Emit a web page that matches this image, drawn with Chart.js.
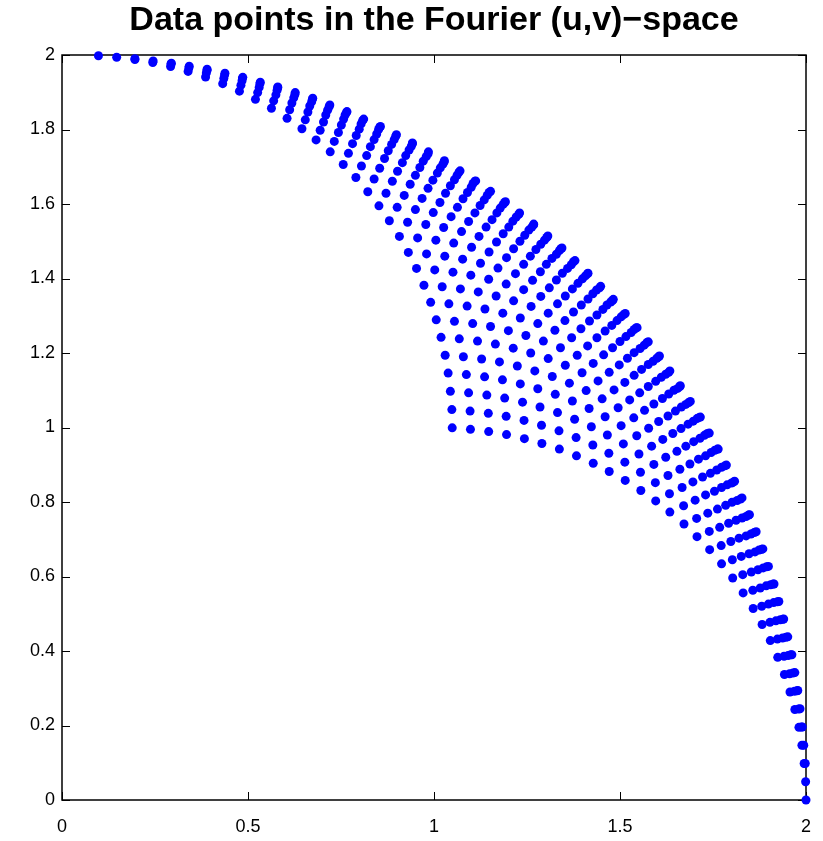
<!DOCTYPE html>
<html>
<head>
<meta charset="utf-8">
<script src="https://cdn.jsdelivr.net/npm/chart.js@4.4.1/dist/chart.umd.min.js"></script>
<style>
  html, body { margin: 0; padding: 0; background: #fff; }
  canvas { display: block; }
</style>
</head>
<body>
<canvas id="uvChart" width="823" height="841"></canvas>
<script>
const chartTitle = 'Data points in the Fourier (u,v)\u2212space';
const xTicks = [0, 0.5, 1, 1.5, 2];
const yTicks = [0, 0.2, 0.4, 0.6, 0.8, 1, 1.2, 1.4, 1.6, 1.8, 2];

// u coordinates, one line per arc of the sampling grid
const uValues = [
  2.000,1.999,1.995,1.989,1.981,1.970,1.957,1.942,1.924,1.904,1.882,1.858,1.831,1.803,1.773,1.741,1.707,1.672,1.634,1.596,1.556,1.514,1.471,1.428,1.383,1.337,1.290,1.243,1.195,1.147,1.098,1.049,
  1.998,1.994,1.988,1.980,1.969,1.956,1.941,1.923,1.903,1.881,1.857,1.830,1.802,1.772,1.740,1.706,1.671,1.633,1.595,1.555,1.513,1.470,1.427,1.382,1.336,1.289,1.242,1.194,1.146,1.097,1.048,
  1.990,1.984,1.976,1.965,1.952,1.937,1.919,1.899,1.877,1.853,1.826,1.798,1.768,1.736,1.702,1.667,1.629,1.591,1.551,1.509,1.466,1.423,1.378,1.332,1.285,1.238,1.190,1.142,1.093,1.044,
  1.978,1.970,1.959,1.946,1.931,1.913,1.893,1.871,1.847,1.820,1.792,1.762,1.730,1.696,1.661,1.623,1.585,1.545,1.503,1.460,1.417,1.372,1.326,1.279,1.232,1.184,1.136,1.087,1.038,
  1.962,1.951,1.938,1.923,1.905,1.885,1.863,1.839,1.812,1.784,1.754,1.722,1.688,1.653,1.615,1.577,1.537,1.495,1.452,1.409,1.364,1.318,1.271,1.224,1.176,1.128,1.079,1.030,
  1.940,1.927,1.912,1.894,1.874,1.852,1.828,1.801,1.773,1.743,1.711,1.677,1.642,1.604,1.566,1.526,1.484,1.441,1.398,1.353,1.307,1.260,1.213,1.165,1.117,1.068,1.019,
  1.914,1.899,1.881,1.861,1.839,1.815,1.788,1.760,1.730,1.698,1.664,1.629,1.591,1.553,1.513,1.471,1.428,1.385,1.340,1.294,1.247,1.200,1.152,1.104,1.055,1.006,
  1.884,1.866,1.846,1.824,1.800,1.773,1.745,1.715,1.683,1.649,1.614,1.576,1.538,1.498,1.456,1.413,1.370,1.325,1.279,1.232,1.185,1.137,1.089,1.040,0.991,
  1.848,1.828,1.806,1.782,1.755,1.727,1.697,1.665,1.631,1.596,1.558,1.520,1.480,1.438,1.395,1.352,1.307,1.261,1.214,1.167,1.119,1.071,1.022,0.973,
  1.808,1.786,1.762,1.735,1.707,1.677,1.645,1.611,1.576,1.538,1.500,1.460,1.418,1.375,1.332,1.287,1.241,1.194,1.147,1.099,1.051,1.002,0.953,
  1.764,1.740,1.713,1.685,1.655,1.623,1.589,1.554,1.516,1.478,1.438,1.396,1.353,1.310,1.265,1.219,1.172,1.125,1.077,1.029,0.980,0.931,
  1.716,1.689,1.661,1.631,1.599,1.565,1.530,1.492,1.454,1.414,1.372,1.329,1.286,1.241,1.195,1.148,1.101,1.053,1.005,0.956,0.907,
  1.662,1.634,1.604,1.572,1.538,1.503,1.465,1.427,1.387,1.345,1.302,1.259,1.214,1.168,1.121,1.074,1.026,0.978,0.929,0.880,
  1.606,1.576,1.544,1.510,1.475,1.437,1.399,1.359,1.317,1.274,1.231,1.186,1.140,1.093,1.046,0.998,0.950,0.901,0.852,
  1.546,1.514,1.480,1.445,1.407,1.369,1.329,1.287,1.244,1.201,1.156,1.110,1.063,1.016,0.968,0.920,0.871,0.822,
  1.482,1.448,1.413,1.375,1.337,1.297,1.255,1.212,1.169,1.124,1.078,1.031,0.984,0.936,0.888,0.839,0.790,
  1.414,1.379,1.341,1.303,1.263,1.221,1.178,1.135,1.090,1.044,0.997,0.950,0.902,0.854,0.805,0.756,
  1.344,1.306,1.268,1.228,1.186,1.143,1.100,1.055,1.009,0.962,0.915,0.867,0.819,0.770,0.721,
  1.268,1.230,1.190,1.148,1.105,1.062,1.017,0.971,0.924,0.877,0.829,0.781,0.732,0.683,
  1.192,1.152,1.110,1.067,1.024,0.979,0.933,0.886,0.839,0.791,0.743,0.694,0.645,
  1.112,1.070,1.027,0.984,0.939,0.893,0.846,0.799,0.751,0.703,0.654,0.605,
  1.028,0.985,0.942,0.897,0.851,0.804,0.757,0.709,0.661,0.612,0.563,
  0.942,0.899,0.854,0.808,0.761,0.714,0.666,0.618,0.569,0.520,
  0.856,0.811,0.765,0.718,0.671,0.623,0.575,0.526,0.477,
  0.766,0.720,0.673,0.626,0.578,0.530,0.481,0.432,
  0.674,0.627,0.580,0.532,0.484,0.435,0.386,
  0.580,0.533,0.485,0.437,0.388,0.339,
  0.486,0.438,0.390,0.341,0.292,
  0.390,0.342,0.293,0.244,
  0.294,0.245,0.196,
  0.196,0.147,
  0.098
];

// v coordinates, same order as uValues
const vValues = [
  0.000,0.049,0.098,0.147,0.195,0.243,0.290,0.337,0.383,0.428,0.471,0.514,0.556,0.596,0.634,0.672,0.707,0.741,0.773,0.803,0.831,0.858,0.882,0.904,0.924,0.942,0.957,0.970,0.981,0.989,0.995,0.999,
  0.098,0.147,0.196,0.244,0.292,0.339,0.386,0.432,0.477,0.520,0.563,0.605,0.645,0.683,0.721,0.756,0.790,0.822,0.852,0.880,0.907,0.931,0.953,0.973,0.991,1.006,1.019,1.030,1.038,1.044,1.048,
  0.196,0.245,0.293,0.341,0.388,0.435,0.481,0.526,0.569,0.612,0.654,0.694,0.732,0.770,0.805,0.839,0.871,0.901,0.929,0.956,0.980,1.002,1.022,1.040,1.055,1.068,1.079,1.087,1.093,1.097,
  0.294,0.342,0.390,0.437,0.484,0.530,0.575,0.618,0.661,0.703,0.743,0.781,0.819,0.854,0.888,0.920,0.950,0.978,1.005,1.029,1.051,1.071,1.089,1.104,1.117,1.128,1.136,1.142,1.146,
  0.390,0.438,0.485,0.532,0.578,0.623,0.666,0.709,0.751,0.791,0.829,0.867,0.902,0.936,0.968,0.998,1.026,1.053,1.077,1.099,1.119,1.137,1.152,1.165,1.176,1.184,1.190,1.194,
  0.486,0.533,0.580,0.626,0.671,0.714,0.757,0.799,0.839,0.877,0.915,0.950,0.984,1.016,1.046,1.074,1.101,1.125,1.147,1.167,1.185,1.200,1.213,1.224,1.232,1.238,1.242,
  0.580,0.627,0.673,0.718,0.761,0.804,0.846,0.886,0.924,0.962,0.997,1.031,1.063,1.093,1.121,1.148,1.172,1.194,1.214,1.232,1.247,1.260,1.271,1.279,1.285,1.289,
  0.674,0.720,0.765,0.808,0.851,0.893,0.933,0.971,1.009,1.044,1.078,1.110,1.140,1.168,1.195,1.219,1.241,1.261,1.279,1.294,1.307,1.318,1.326,1.332,1.336,
  0.766,0.811,0.854,0.897,0.939,0.979,1.017,1.055,1.090,1.124,1.156,1.186,1.214,1.241,1.265,1.287,1.307,1.325,1.340,1.353,1.364,1.372,1.378,1.382,
  0.856,0.899,0.942,0.984,1.024,1.062,1.100,1.135,1.169,1.201,1.231,1.259,1.286,1.310,1.332,1.352,1.370,1.385,1.398,1.409,1.417,1.423,1.427,
  0.942,0.985,1.027,1.067,1.105,1.143,1.178,1.212,1.244,1.274,1.302,1.329,1.353,1.375,1.395,1.413,1.428,1.441,1.452,1.460,1.466,1.470,
  1.028,1.070,1.110,1.148,1.186,1.221,1.255,1.287,1.317,1.345,1.372,1.396,1.418,1.438,1.456,1.471,1.484,1.495,1.503,1.509,1.513,
  1.112,1.152,1.190,1.228,1.263,1.297,1.329,1.359,1.387,1.414,1.438,1.460,1.480,1.498,1.513,1.526,1.537,1.545,1.551,1.555,
  1.192,1.230,1.268,1.303,1.337,1.369,1.399,1.427,1.454,1.478,1.500,1.520,1.538,1.553,1.566,1.577,1.585,1.591,1.595,
  1.268,1.306,1.341,1.375,1.407,1.437,1.465,1.492,1.516,1.538,1.558,1.576,1.591,1.604,1.615,1.623,1.629,1.633,
  1.344,1.379,1.413,1.445,1.475,1.503,1.530,1.554,1.576,1.596,1.614,1.629,1.642,1.653,1.661,1.667,1.671,
  1.414,1.448,1.480,1.510,1.538,1.565,1.589,1.611,1.631,1.649,1.664,1.677,1.688,1.696,1.702,1.706,
  1.482,1.514,1.544,1.572,1.599,1.623,1.645,1.665,1.683,1.698,1.711,1.722,1.730,1.736,1.740,
  1.546,1.576,1.604,1.631,1.655,1.677,1.697,1.715,1.730,1.743,1.754,1.762,1.768,1.772,
  1.606,1.634,1.661,1.685,1.707,1.727,1.745,1.760,1.773,1.784,1.792,1.798,1.802,
  1.662,1.689,1.713,1.735,1.755,1.773,1.788,1.801,1.812,1.820,1.826,1.830,
  1.716,1.740,1.762,1.782,1.800,1.815,1.828,1.839,1.847,1.853,1.857,
  1.764,1.786,1.806,1.824,1.839,1.852,1.863,1.871,1.877,1.881,
  1.808,1.828,1.846,1.861,1.874,1.885,1.893,1.899,1.903,
  1.848,1.866,1.881,1.894,1.905,1.913,1.919,1.923,
  1.884,1.899,1.912,1.923,1.931,1.937,1.941,
  1.914,1.927,1.938,1.946,1.952,1.956,
  1.940,1.951,1.959,1.965,1.969,
  1.962,1.970,1.976,1.980,
  1.978,1.984,1.988,
  1.990,1.994,
  1.998
];

const points = uValues.map((u, i) => ({ x: u, y: vValues[i] }));

const fontFamily = '"Liberation Sans", Arial, Helvetica, sans-serif';

// box around the axes with inward tick marks on all four sides
const axesBox = {
    id: 'axesBox',
    beforeDatasetsDraw(chart) {
        const ctx = chart.ctx;
        const area = chart.chartArea;
        const xs = chart.scales.x;
        const ys = chart.scales.y;
        const len = 8;
        ctx.save();
        ctx.strokeStyle = '#000';
        ctx.lineWidth = 1;
        ctx.beginPath();
        xTicks.forEach(t => {
            const px = Math.round(xs.getPixelForValue(t)) + 0.5;
            ctx.moveTo(px, area.bottom);
            ctx.lineTo(px, area.bottom - len);
            ctx.moveTo(px, area.top);
            ctx.lineTo(px, area.top + len);
        });
        yTicks.forEach(t => {
            const py = Math.round(ys.getPixelForValue(t)) + 0.5;
            ctx.moveTo(area.left, py);
            ctx.lineTo(area.left + len, py);
            ctx.moveTo(area.right, py);
            ctx.lineTo(area.right - len, py);
        });
        ctx.stroke();
        ctx.lineWidth = 1.5;
        ctx.strokeRect(area.left, area.top, area.right - area.left, area.bottom - area.top);
        ctx.restore();
    },
    afterDraw(chart) {
        const ctx = chart.ctx;
        const area = chart.chartArea;
        ctx.save();
        ctx.fillStyle = '#000';
        ctx.font = 'bold 34px ' + fontFamily;
        ctx.textAlign = 'center';
        ctx.textBaseline = 'middle';
        ctx.fillText(chartTitle, (area.left + area.right) / 2, 21);
        ctx.restore();
    }
};

const tickLabel = v => String(Math.round(v * 10) / 10);

new Chart(document.getElementById('uvChart'), {
    type: 'scatter',
    data: {
        datasets: [{
            data: points,
            backgroundColor: '#0000ff',
            borderColor: '#0000ff',
            borderWidth: 0,
            pointRadius: 4.5,
            clip: false
        }]
    },
    options: {
        responsive: false,
        animation: false,
        events: [],
        layout: { padding: { top: 55, right: 17, left: 0, bottom: 0 } },
        plugins: {
            legend: { display: false },
            tooltip: { enabled: false }
        },
        scales: {
            x: {
                type: 'linear',
                min: 0,
                max: 2,
                afterBuildTicks: scale => { scale.ticks = xTicks.map(v => ({ value: v })); },
                afterFit: scale => {
                    scale.height = 41;
                    scale.paddingLeft = 0;
                    scale.paddingRight = 0;
                },
                grid: { display: false, drawTicks: false },
                border: { display: false },
                ticks: {
                    color: '#000',
                    padding: 16,
                    maxRotation: 0,
                    font: { family: fontFamily, size: 18 },
                    callback: tickLabel
                }
            },
            y: {
                type: 'linear',
                min: 0,
                max: 2,
                afterBuildTicks: scale => { scale.ticks = yTicks.map(v => ({ value: v })); },
                afterFit: scale => {
                    scale.width = 62;
                    scale.paddingTop = 0;
                    scale.paddingBottom = 0;
                },
                grid: { display: false, drawTicks: false },
                border: { display: false },
                ticks: {
                    color: '#000',
                    padding: 7,
                    font: { family: fontFamily, size: 18 },
                    callback: tickLabel
                }
            }
        }
    },
    plugins: [axesBox]
});
</script>
</body>
</html>
